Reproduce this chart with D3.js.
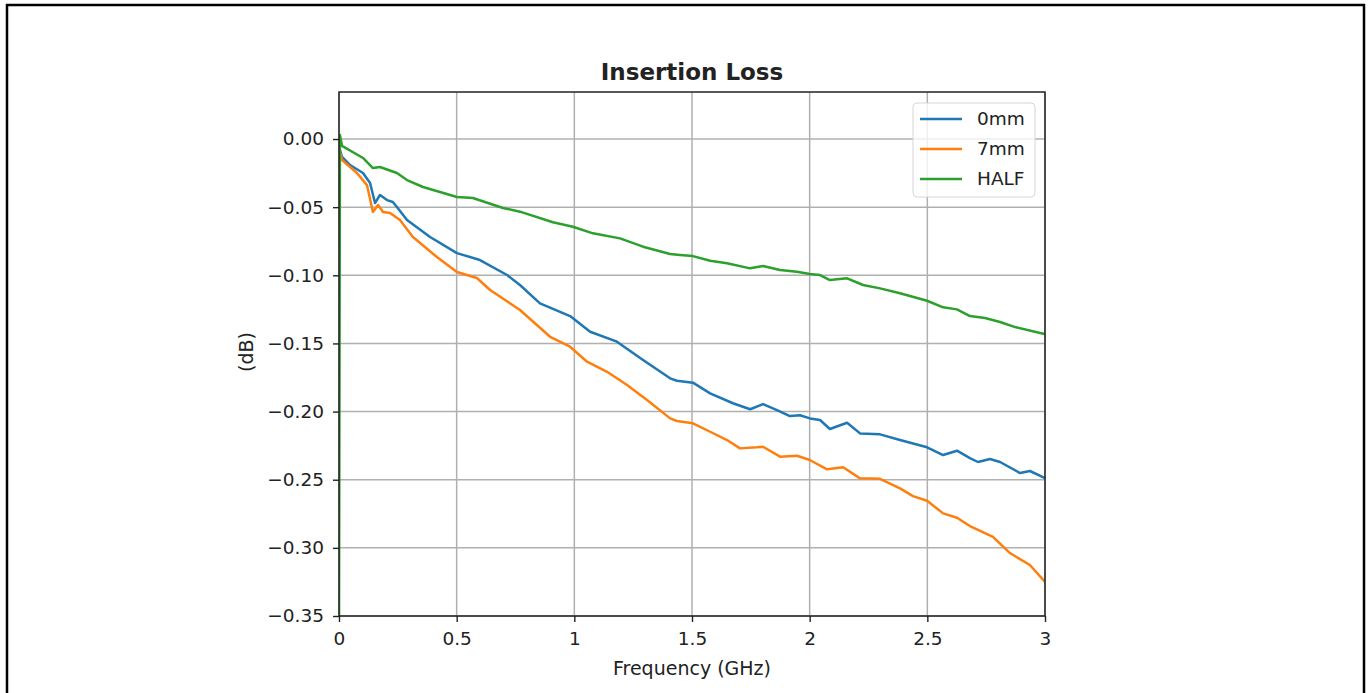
<!DOCTYPE html>
<html>
<head>
<meta charset="utf-8">
<script src="https://cdn.jsdelivr.net/npm/d3@7"></script>
<style>
  body { margin: 0; background: #fff; }
  text { font-family: 'DejaVu Sans', sans-serif; fill: #222; }
</style>
</head>
<body>
<div id="chart"></div>
<script>
// frequency (GHz) / loss (dB) pairs
var zeroMm = [
  [0.004, -0.0081], [0.013, -0.0132], [0.047, -0.0191], [0.102, -0.0249], [0.132, -0.0323],
  [0.153, -0.0470], [0.174, -0.0411], [0.204, -0.0448], [0.229, -0.0462], [0.246, -0.0499],
  [0.289, -0.0594], [0.387, -0.0719], [0.501, -0.0837], [0.599, -0.0888], [0.714, -0.0998],
  [0.769, -0.1071], [0.854, -0.1206], [0.982, -0.1299], [1.067, -0.1414], [1.181, -0.1487],
  [1.292, -0.1622], [1.407, -0.1756], [1.436, -0.1774], [1.504, -0.1788], [1.577, -0.1866],
  [1.674, -0.1939], [1.747, -0.1983], [1.802, -0.1945], [1.861, -0.1989], [1.916, -0.2033],
  [1.959, -0.2027], [2.001, -0.2050], [2.044, -0.2062], [2.086, -0.2128], [2.159, -0.2082],
  [2.214, -0.2160], [2.299, -0.2167], [2.384, -0.2209], [2.499, -0.2262], [2.567, -0.2319],
  [2.626, -0.2287], [2.681, -0.2341], [2.715, -0.2370], [2.766, -0.2348], [2.809, -0.2370],
  [2.894, -0.2451], [2.936, -0.2436], [3.0, -0.2488]
]
var sevenMm = [
  [0.004, -0.0095], [0.013, -0.0154], [0.076, -0.0249], [0.119, -0.0338], [0.144, -0.0536],
  [0.166, -0.0484], [0.187, -0.0536], [0.217, -0.0543], [0.259, -0.0594], [0.314, -0.0719],
  [0.416, -0.0866], [0.501, -0.0976], [0.586, -0.1020], [0.642, -0.1108], [0.769, -0.1255],
  [0.897, -0.1451], [0.982, -0.1524], [1.054, -0.1634], [1.139, -0.1708], [1.224, -0.1805],
  [1.309, -0.1915], [1.407, -0.2050], [1.436, -0.2069], [1.504, -0.2086], [1.577, -0.2148],
  [1.649, -0.2209], [1.704, -0.2270], [1.776, -0.2262], [1.802, -0.2258], [1.874, -0.2331],
  [1.946, -0.2324], [2.001, -0.2355], [2.014, -0.2368], [2.074, -0.2424], [2.142, -0.2409],
  [2.214, -0.2490], [2.299, -0.2493], [2.384, -0.2563], [2.439, -0.2620], [2.499, -0.2654],
  [2.567, -0.2747], [2.626, -0.2779], [2.681, -0.2840], [2.779, -0.2920], [2.851, -0.3038],
  [2.936, -0.3126], [3.0, -0.3250]
]
var half = [
  [0, -0.36], [0.004, 0.0029], [0.013, -0.0050], [0.102, -0.0139], [0.144, -0.0213],
  [0.174, -0.0205], [0.246, -0.0249], [0.289, -0.0301], [0.357, -0.0352], [0.501, -0.0426],
  [0.569, -0.0433], [0.697, -0.0506], [0.769, -0.0533], [0.909, -0.0611], [0.994, -0.0644],
  [1.079, -0.0692], [1.194, -0.0729], [1.292, -0.0790], [1.407, -0.0844], [1.449, -0.0851],
  [1.504, -0.0859], [1.577, -0.0893], [1.649, -0.0912], [1.747, -0.0949], [1.802, -0.0932],
  [1.874, -0.0961], [1.946, -0.0974], [2.001, -0.0991], [2.044, -0.0998], [2.086, -0.1035],
  [2.159, -0.1022], [2.227, -0.1071], [2.299, -0.1096], [2.384, -0.1132], [2.499, -0.1187],
  [2.567, -0.1235], [2.626, -0.1250], [2.681, -0.1299], [2.745, -0.1313], [2.809, -0.1343],
  [2.873, -0.1380], [2.979, -0.1424], [3.0, -0.1431]
]

var seriesNames = ['0mm', '7mm', 'HALF']
var seriesColors = ['#1f77b4', '#ff7f0e', '#2ca02c']
var xTicks = [0, 0.5, 1, 1.5, 2, 2.5, 3]
var yTicks = [0, -0.05, -0.1, -0.15, -0.2, -0.25, -0.3, -0.35]

var margin = { top: 92, left: 339, right: 325, bottom: 77 }
var width = 1370 - margin.left - margin.right
var height = 693 - margin.top - margin.bottom

var root = d3.select('#chart')
  .append('svg')
  .attr('width', 1370)
  .attr('height', 693)

// outer frame
root.append('rect')
  .attr('x', 7).attr('y', 5)
  .attr('width', 1357).attr('height', 700)
  .attr('fill', 'none')
  .attr('stroke', '#000')
  .attr('stroke-width', 2.5)

var svg = root.append('g')
  .attr('transform', `translate(${margin.left},${margin.top})`)

var xPositionScale = d3.scaleLinear().domain([0, 3]).range([0, width])
var yPositionScale = d3.scaleLinear().domain([-0.35, 0.0345]).range([height, 0])

/* grid */
svg.selectAll('.vgrid')
  .data(xTicks)
  .enter().append('line')
  .attr('x1', d => xPositionScale(d)).attr('x2', d => xPositionScale(d))
  .attr('y1', 0).attr('y2', height)
  .attr('stroke', '#b0b0b0').attr('stroke-width', 1.5)

svg.selectAll('.hgrid')
  .data(yTicks)
  .enter().append('line')
  .attr('x1', 0).attr('x2', width)
  .attr('y1', d => yPositionScale(d)).attr('y2', d => yPositionScale(d))
  .attr('stroke', '#b0b0b0').attr('stroke-width', 1.5)

/* lines */
svg.append('clipPath').attr('id', 'clip')
  .append('rect').attr('width', width).attr('height', height)

var line = d3.line()
  .x(d => xPositionScale(d[0]))
  .y(d => yPositionScale(d[1]))

var allSeries = [zeroMm, sevenMm, half]
svg.append('g')
  .attr('clip-path', 'url(#clip)')
  .selectAll('path')
  .data(allSeries)
  .enter().append('path')
  .attr('d', line)
  .attr('fill', 'none')
  .attr('stroke', (d, i) => seriesColors[i])
  .attr('stroke-width', 2.5)
  .attr('stroke-linejoin', 'round')

/* axes */
var fmtY = d => d3.format('.2f')(d).replace('-', '\u2212')
var xAxis = d3.axisBottom(xPositionScale)
  .tickValues(xTicks)
  .tickFormat(d => String(d))
  .tickSize(6).tickPadding(10)
svg.append('g')
  .attr('class', 'axis x-axis')
  .attr('transform', 'translate(0,' + height + ')')
  .call(xAxis)

var yAxis = d3.axisLeft(yPositionScale)
  .tickValues(yTicks)
  .tickFormat(fmtY)
  .tickSize(6).tickPadding(9)
svg.append('g')
  .attr('class', 'axis y-axis')
  .call(yAxis)

svg.selectAll('.axis .domain').remove()
svg.selectAll('.axis line').attr('stroke', '#222').attr('stroke-width', 1.4)
svg.selectAll('.axis text').style('font-size', '18.5px').attr('fill', '#222')

// frame of the axes
svg.append('rect')
  .attr('width', width).attr('height', height)
  .attr('fill', 'none')
  .attr('stroke', '#222')
  .attr('stroke-width', 1.5)

/* labels */
svg.append('text')
  .attr('x', width / 2).attr('y', -12)
  .attr('text-anchor', 'middle')
  .style('font-size', '23px').style('font-weight', 'bold')
  .text('Insertion Loss')

svg.append('text')
  .attr('x', width / 2).attr('y', height + 59)
  .attr('text-anchor', 'middle')
  .style('font-size', '19px')
  .text('Frequency (GHz)')

svg.append('text')
  .attr('transform', `translate(${-86},${height / 2 - 2}) rotate(-90)`)
  .attr('text-anchor', 'middle')
  .style('font-size', '19px')
  .text('(dB)')

/* legend */
var legend = svg.append('g')
  .attr('transform', `translate(${width - 132},${11})`)

legend.append('rect')
  .attr('width', 122).attr('height', 94)
  .attr('rx', 4)
  .attr('fill', 'rgba(255,255,255,0.8)')
  .attr('stroke', '#d6d6d6')

seriesNames.forEach((name, i) => {
  var g = legend.append('g').attr('transform', `translate(0,${16 + i * 30})`)
  g.append('line')
    .attr('x1', 7).attr('x2', 49)
    .attr('stroke', seriesColors[i]).attr('stroke-width', 2.5)
  g.append('text')
    .attr('x', 64).attr('dy', '0.35em')
    .style('font-size', '18.5px')
    .text(name)
})
</script>
</body>
</html>
